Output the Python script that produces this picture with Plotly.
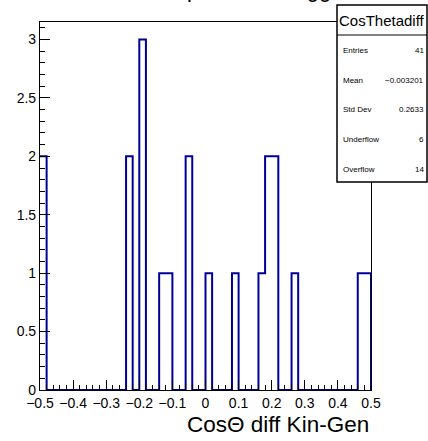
import plotly.graph_objects as go

# Histogram CosThetadiff: 50 bins of width 0.02 over [-0.5, 0.5]
x_min = -0.5
x_max = 0.5
n_bins = 50
counts = [2, 0, 0, 0, 0, 0, 0, 0, 0, 0,
          0, 0, 0, 2, 0, 3, 0, 0, 1, 1,
          0, 0, 2, 0, 0, 1, 0, 0, 0, 1,
          0, 0, 0, 1, 2, 2, 0, 0, 1, 0,
          0, 0, 0, 0, 0, 0, 0, 0, 1, 1]

stat_labels = ["Entries", "Mean", "Std Dev", "Underflow", "Overflow"]
stat_values = ["41", "\u22120.003201", "0.2633", "6", "14"]
hist_name = "CosThetadiff"
x_title = "Cos\u0398 diff Kin-Gen"
plot_title = "Cos\u0398 comparison in trigger"

W, H = 428, 441
L, R, T, B = 40, 57, 22, 51
FONT = "Liberation Sans, Arial, sans-serif"

width = (x_max - x_min) / n_bins
edges = [x_min + i * width for i in range(n_bins + 1)]

# outline of the step histogram
xs = edges[:n_bins] + [edges[n_bins], edges[n_bins]]
ys = counts + [counts[-1], 0]

fig = go.Figure(go.Scatter(
    x=xs, y=ys, mode="lines",
    line=dict(shape="hv", color="#000099", width=2),
    hoverinfo="skip", showlegend=False,
))

axis_common = dict(
    ticks="inside", ticklen=10, tickwidth=1, tickcolor="black",
    showline=True, linecolor="black", linewidth=1.2, mirror=True,
    showgrid=False, zeroline=False, tickangle=0,
    tickfont=dict(family=FONT, size=14, color="black"),
)

fig.update_layout(
    width=W, height=H,
    margin=dict(l=L, r=R, t=T, b=B, pad=0),
    paper_bgcolor="white", plot_bgcolor="white",
    xaxis=dict(range=[x_min, x_max], tick0=-0.5, dtick=0.1,
               minor=dict(dtick=0.02, ticks="inside", ticklen=5,
                          tickcolor="black", showgrid=False),
               **axis_common),
    yaxis=dict(range=[0, 3.15], tick0=0, dtick=0.5,
               minor=dict(dtick=0.1, ticks="inside", ticklen=5,
                          tickcolor="black", showgrid=False),
               **axis_common),
)

pw = W - L - R
ph = H - T - B


def px(xp):
    return (xp - L) / pw


def py(yp):
    return (H - B - yp) / ph


# stats box
box_l, box_r, box_t, box_div, box_b = 337, 427, 5, 35, 182
fig.add_shape(type="rect", xref="paper", yref="paper",
              x0=px(box_l), x1=px(box_r), y0=py(box_b), y1=py(box_t),
              line=dict(color="black", width=1.5), fillcolor="white",
              layer="above")
fig.add_shape(type="line", xref="paper", yref="paper",
              x0=px(box_l), x1=px(box_r), y0=py(box_div), y1=py(box_div),
              line=dict(color="black", width=1), layer="above")

annotations = [
    dict(text=hist_name, x=px((box_l + box_r) / 2), y=py(20),
         xanchor="center", yanchor="middle",
         font=dict(family=FONT, size=15, color="black")),
]
row_y = [51, 80.5, 110, 139.5, 169]
for lab, val, yy in zip(stat_labels, stat_values, row_y):
    annotations.append(dict(text=lab, x=px(341), y=py(yy), xanchor="left",
                            yanchor="middle",
                            font=dict(family=FONT, size=8, color="black")))
    annotations.append(dict(text=val, x=px(426), y=py(yy), xanchor="right",
                            yanchor="middle",
                            font=dict(family=FONT, size=8, color="black")))

# x axis title, right aligned under the frame
annotations.append(dict(text=x_title, x=px(370), y=py(424), xanchor="right",
                        yanchor="middle", borderpad=0,
                        font=dict(family=FONT, size=22.5, color="black")))
# histogram title, mostly above the page
annotations.append(dict(text=plot_title, x=px(217), y=py(4), xanchor="center",
                        yanchor="bottom",
                        font=dict(family=FONT, size=22, color="black")))

for a in annotations:
    a.update(xref="paper", yref="paper", showarrow=False)
fig.update_layout(annotations=annotations)

fig.write_html("out.html")
